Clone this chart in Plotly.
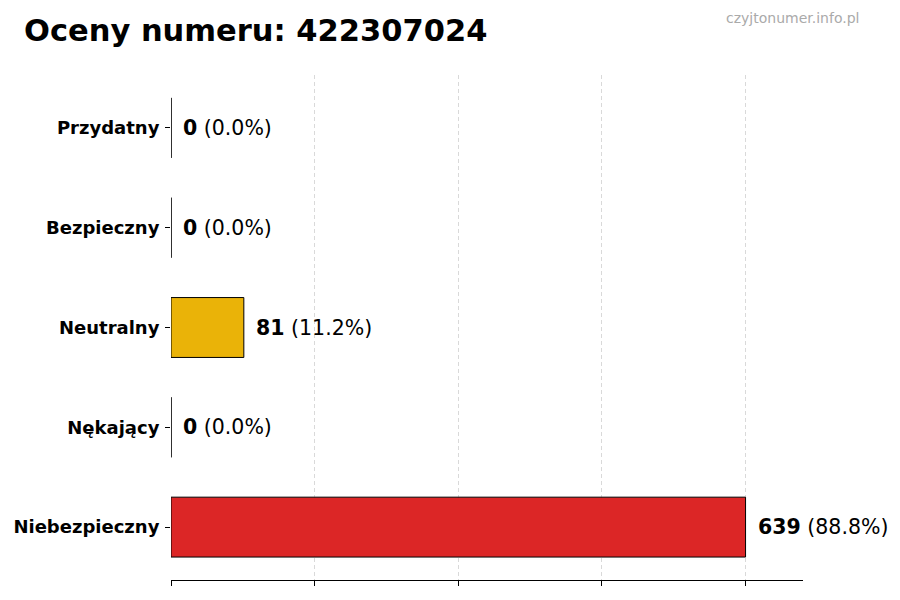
import plotly.graph_objects as go

# oceny numeru, od gory do dolu
categories = ["Przydatny", "Bezpieczny", "Neutralny", "Nękający", "Niebezpieczny"]
counts = [0, 0, 81, 0, 639]
colors = ["#22C55E", "#3B82F6", "#EAB308", "#F97316", "#DC2626"]
number = "422307024"

total = sum(counts)
vmax = max(counts)

fig = go.Figure()
fig.add_trace(go.Bar(
    x=counts, y=categories, orientation="h", width=0.6,
    marker=dict(color=colors, line=dict(color="black", width=1)),
    hoverinfo="skip",
))

# zero bars still show their edge as a thin vertical line
zero_cats = [c for c, v in zip(categories, counts) if v == 0]
fig.add_trace(go.Scatter(
    x=[0] * len(zero_cats), y=zero_cats, mode="markers",
    marker=dict(symbol="line-ns", size=43, line=dict(color="#222", width=1)),
    hoverinfo="skip",
))

for c, v in zip(categories, counts):
    pct = v / total * 100
    fig.add_annotation(
        x=v, y=c, text="<b>%d</b> (%.1f%%)" % (v, pct),
        showarrow=False, xanchor="left", xshift=10,
        font=dict(size=20.5, color="black"),
    )

fig.add_annotation(
    xref="paper", yref="paper", x=-0.236, y=1.088, xanchor="left", yanchor="middle",
    text="<b>Oceny numeru: %s</b>" % number, showarrow=False,
    font=dict(size=30.5, color="black"),
)
fig.add_annotation(
    xref="paper", yref="paper", x=1.092, y=1.112, xanchor="right", yanchor="middle",
    text="czyjtonumer.info.pl", showarrow=False,
    font=dict(size=14, color="#aaaaaa"),
)

fig.update_layout(
    width=900, height=600,
    margin=dict(l=163, r=105, t=67, b=28),
    plot_bgcolor="white", paper_bgcolor="white",
    showlegend=False,
    font=dict(family="DejaVu Sans", color="black"),
    bargap=0.4,
)
fig.update_xaxes(
    range=[0, vmax * 1.1],
    tickvals=[vmax * i / 4 for i in range(5)],
    showticklabels=False,
    ticks="outside", ticklen=5, tickcolor="black",
    showline=True, linecolor="black", linewidth=1,
    showgrid=True, gridcolor="#d9d9d9", griddash="4px,3px", gridwidth=1,
    zeroline=False, automargin=False,
)
fig.update_yaxes(
    categoryorder="array", categoryarray=categories,
    range=[len(categories) - 0.47, -0.53],
    ticks="outside", ticklen=5, tickcolor="black",
    tickfont=dict(size=18),
    ticklabelstandoff=2,
    tickprefix="<b>", ticksuffix="</b>",
    showline=False, showgrid=False, zeroline=False, automargin=False,
)

fig.write_html("out.html")
